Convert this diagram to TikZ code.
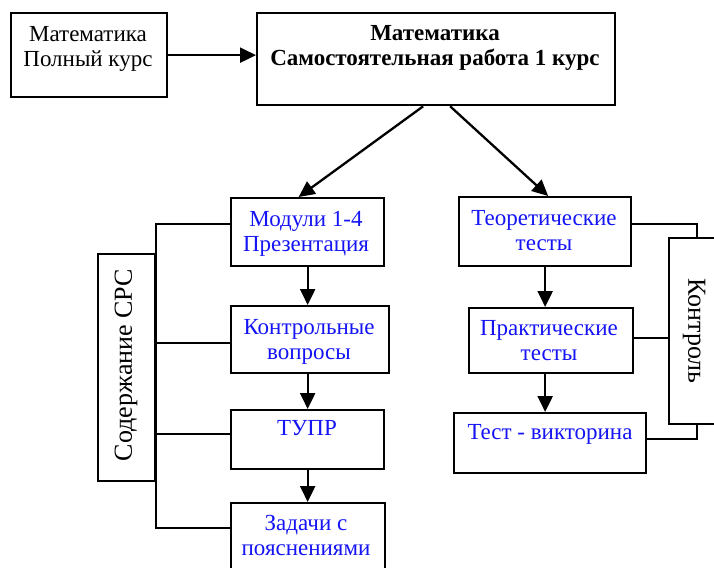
\documentclass[tikz,border=0pt]{standalone}
\usepackage{fontspec}
\setmainfont{Liberation Serif}
\usetikzlibrary{arrows.meta}
\definecolor{bluetxt}{RGB}{20,20,245}
\begin{document}
\begin{tikzpicture}[x=1pt,y=-1pt,
  box/.style={draw, line width=2.3pt, rectangle, inner sep=0pt, anchor=north west},
  lbl/.style={inner sep=0pt, anchor=base, font=\fontsize{23}{25}\selectfont, align=center},
  blu/.style={lbl, text=bluetxt},
  rot/.style={inner sep=0pt, font=\fontsize{26}{30}\selectfont},
  arr/.style={line width=2.3pt, -{Triangle[length=16pt,width=15pt]}},
  ln/.style={line width=2.3pt}]
\clip (0,0) rectangle (714,567);
\fill[white] (0,0) rectangle (714,567);
% boxes
\node[box, minimum width=156pt, minimum height=84pt] (A) at (10,12) {};
\node[box, minimum width=358pt, minimum height=92pt] (B) at (256,12) {};
\node[box, minimum width=153pt, minimum height=68pt] (M1) at (230,197) {};
\node[box, minimum width=158pt, minimum height=67pt] (M2) at (230,305) {};
\node[box, minimum width=153pt, minimum height=59pt] (M3) at (230,409) {};
\node[box, minimum width=154pt, minimum height=88pt] (M4) at (230,502) {};
\node[box, minimum width=172pt, minimum height=69pt] (T1) at (458,196) {};
\node[box, minimum width=164pt, minimum height=65pt] (T2) at (468,307) {};
\node[box, minimum width=192pt, minimum height=60pt] (T3) at (453,412) {};
\node[box, minimum width=57pt, minimum height=227pt] (S) at (97,253) {};
\node[box, minimum width=72pt, minimum height=186pt] (K) at (668,237) {};
% texts (anchor base = baseline of the last line)
\node[lbl] (tA) at (88,67) {Математика\\Полный курс};
\node[lbl, font=\fontsize{23}{25}\selectfont\bfseries] (tB) at (435,66) {Математика\\Самостоятельная работа 1 курс};
\node[blu] (tM1) at (306,251) {Модули 1-4\\Презентация};
\node[blu] (tM2) at (309,359) {Контрольные\\вопросы};
\node[blu] (tM3) at (307,435) {ТУПР};
\node[blu] (tM4) at (306,555) {Задачи с\\пояснениями};
\node[blu] (tT1) at (544,250) {Теоретические\\тесты};
\node[blu] (tT2) at (549,360) {Практические\\тесты};
\node[blu] (tT3) at (550,439) {Тест - викторина};
\node[rot, rotate=90] (tS) at (126,365) {Содержание СРС};
\node[rot, rotate=-90] (tK) at (694,331) {Контроль};
% arrows
\draw[arr] (A.east) -- (A.east -| B.west);
\draw[arr] ([xshift=-13pt]B.south) -- ([xshift=-9pt]M1.north);
\draw[arr] ([xshift=14pt]B.south) -- ([xshift=3pt]T1.north);
\draw[arr] (M1.south) -- (M1.south |- M2.north);
\draw[arr] (M3.north |- M2.south) -- (M3.north);
\draw[arr] (M3.south) -- (M3.south |- M4.north);
\draw[arr] (T1.south) -- (T1.south |- T2.north);
\draw[arr] (T1.south |- T2.south) -- (T1.south |- T3.north);
% left bus
\path ([yshift=8pt]M1.west) coordinate (m1w)
      ([yshift=-3.5pt]M2.west) coordinate (m2w)
      ([yshift=5.5pt]M3.west) coordinate (m3w)
      ([yshift=19pt]M4.west) coordinate (m4w);
\draw[ln] (m1w) -- (m1w -| S.east) -- (m4w -| S.east) -- (m4w);
\draw[ln] (m2w) -- (m2w -| S.east);
\draw[ln] (m3w) -- (m3w -| S.east);
% right bus
\path ([yshift=7.5pt]T1.east) coordinate (t1e)
      ([yshift=2.5pt]T2.east) coordinate (t2e)
      ([yshift=4pt]T3.east) coordinate (t3e)
      ([xshift=29pt]K.north west) coordinate (kb)
      ([xshift=29pt]K.south west) coordinate (kc);
\draw[ln] (t1e) -| (kb);
\draw[ln] (t2e) -- (t2e -| K.west);
\draw[ln] (t3e) -| (kc);
\end{tikzpicture}
\end{document}
